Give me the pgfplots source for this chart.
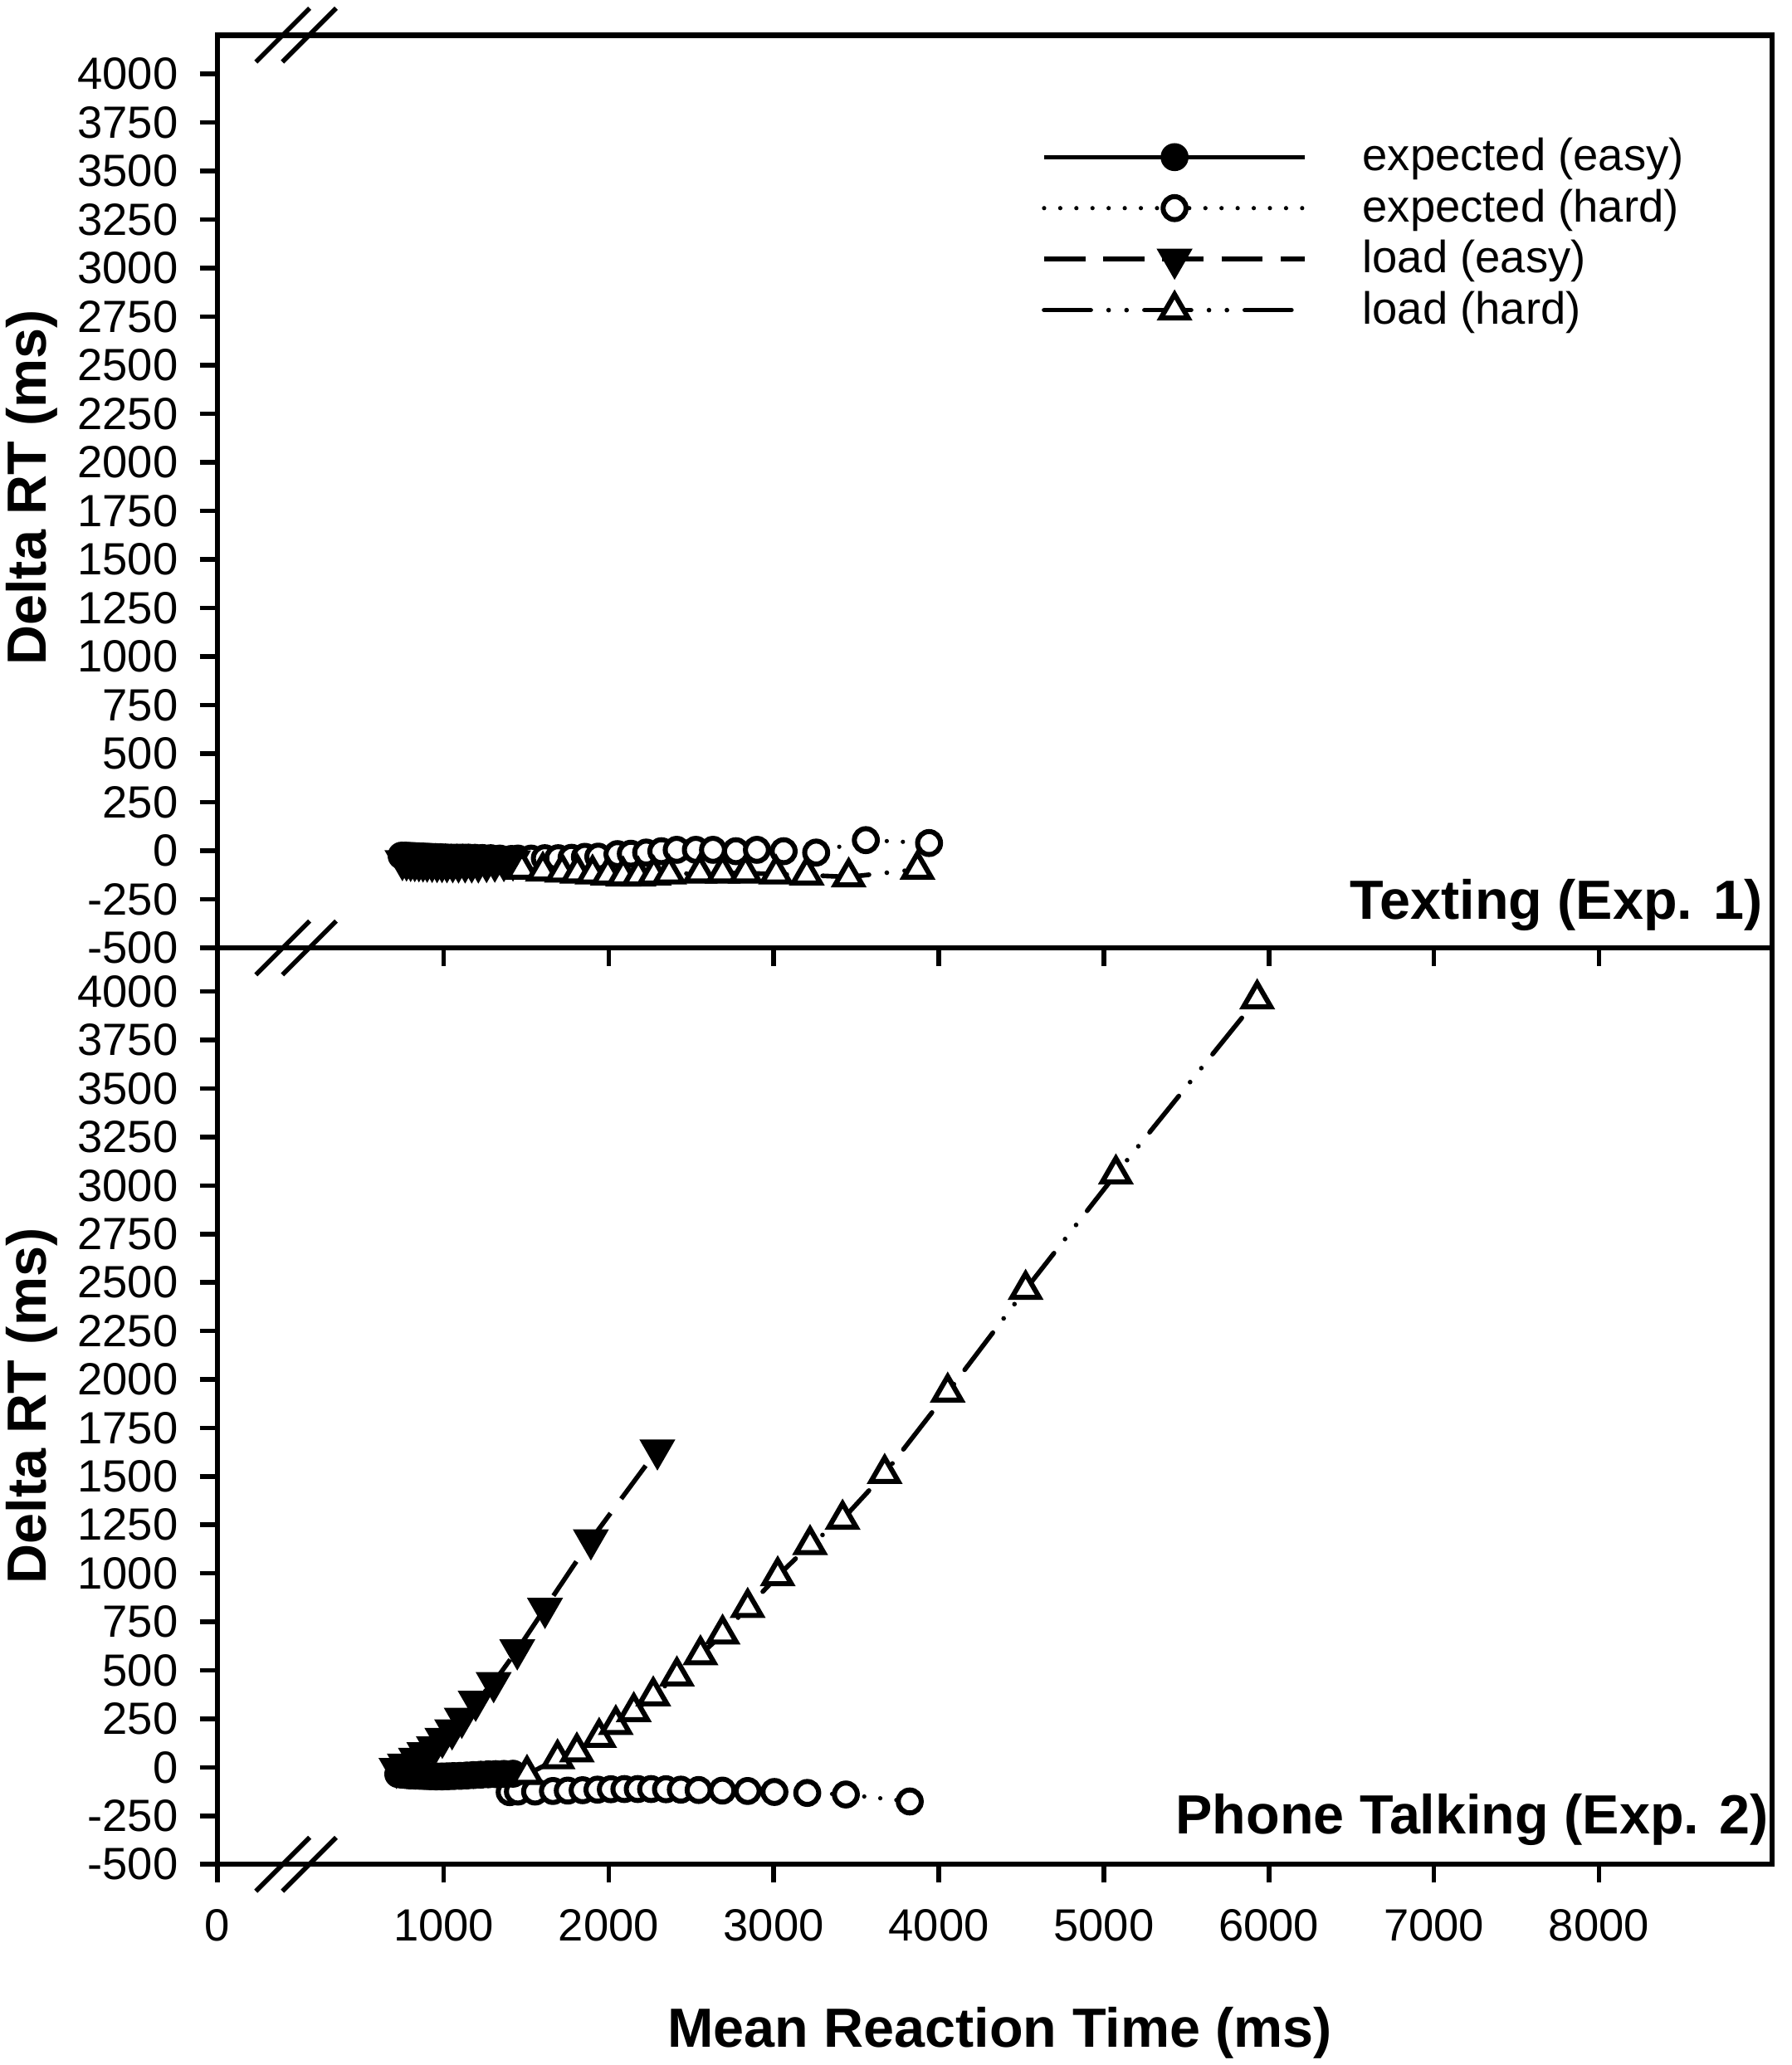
\documentclass[border=0pt]{standalone}
\usepackage{fontspec}
\setmainfont{Liberation Sans}
\usepackage{pgfplots}
\pgfplotsset{compat=1.18}
\begin{document}
\begin{tikzpicture}
\path[use as bounding box] (0,0) rectangle (500pt,576.2pt);
\pgfplotsset{
 panel/.style={
  at={(60.7pt,#1)}, anchor=south west,
  scale only axis, width=433.8pt,
  xmin=-370, xmax=9050, ymin=-500,
  xtick={-370,1000,2000,3000,4000,5000,6000,7000,8000},
  ytick={-500,-250,...,4000},
  tick align=outside, xtick pos=bottom, ytick pos=left,
  major tick length=5pt,
  major tick style={line width=1.3pt, black},
  axis line style={line width=1.5pt},
  ticklabel style={font=\fontsize{12.6}{14}\selectfont},
  xticklabel style={yshift=-4.1pt},
  yticklabel style={xshift=-2.5pt},
  /pgf/number format/1000 sep={},
  /pgf/number format/assume math mode=true,
  clip=false,
 },
 eeasy/.style={black, line width=1.3pt, mark=*, mark size=3.5pt, mark options={solid, fill=black, line width=0.8pt}},
 ehard/.style={black, line width=1.2pt, dash pattern=on 0pt off 4.5pt, line cap=round, mark=*, mark size=3.2pt, mark options={solid, fill=white, line width=1.4pt}},
 leasy/.style={black, line width=1.3pt, dash pattern=on 11.5pt off 5pt, mark=triangle*, mark size=5pt, mark options={solid, fill=black, rotate=180, line width=0.8pt}},
 lhard/.style={black, line width=1.3pt, dash pattern=on 13pt off 5pt on 0pt off 5pt on 0pt off 5pt, line cap=round, mark=triangle*, mark size=4.4pt, mark options={solid, fill=white, line width=1.4pt, line cap=butt}},
}
% ---------------- top panel: Texting ----------------
\begin{axis}[panel=311.7pt, height=254.7pt, ymax=4200,
  xticklabels={},
  legend style={draw=none, fill=none, at={(0.5297,0.888)}, anchor=north west,
    inner sep=0pt, row sep=3.6pt, column sep=15.4pt,
    nodes={inner sep=0pt}, font=\fontsize{12.6}{14}\selectfont},
  legend cell align=left,
  legend image code/.code={\draw[mark repeat=2,mark phase=2] plot coordinates {(0pt,0pt)(36.4pt,0pt)(72.8pt,0pt)};},
]
\addplot[ehard, forget plot] coordinates {
(1450,-40) (1530,-40) (1613,-38) (1694,-38) (1775,-36) (1856,-31) (1937,-30)
(2053,-17) (2134,-15) (2227,-9) (2319,-2) (2412,5) (2528,5) (2632,5) (2771,-2)
(2898,5) (3060,-2) (3257,-9) (3558,55) (3941,40)};
\addplot[eeasy, forget plot] coordinates {
(745,-25) (770,-25) (795,-26) (820,-27) (845,-28) (870,-29) (895,-30) (920,-31)
(950,-32) (980,-33) (1010,-34) (1045,-35) (1080,-35) (1115,-35) (1150,-35)
(1190,-36) (1235,-37) (1285,-38) (1340,-40) (1410,-42)};
\addplot[leasy, forget plot] coordinates {
(750,-50) (775,-52) (800,-54) (825,-55) (850,-56) (875,-57) (900,-58) (930,-59)
(960,-60) (990,-60) (1020,-61) (1055,-61) (1090,-62) (1130,-62) (1170,-62)
(1210,-62) (1260,-60) (1310,-58) (1365,-55) (1420,-52)};
\addplot[lhard, forget plot] coordinates {
(1474,-95) (1601,-105) (1717,-110) (1810,-115) (1902,-120) (1995,-125) (2088,-130)
(2180,-130) (2273,-125) (2366,-120) (2551,-115) (2690,-115) (2829,-115) (3014,-120)
(3200,-125) (3454,-135) (3871,-95)};
\addlegendimage{eeasy}
\addlegendentry{expected (easy)}
\addlegendimage{ehard}
\addlegendentry{expected (hard)}
\addlegendimage{leasy}
\addlegendentry{load (easy)}
\addlegendimage{lhard}
\addlegendentry{load (hard)}
\end{axis}
% ---------------- bottom panel: Phone talking ----------------
\begin{axis}[panel=56.0pt, height=255.7pt, ymax=4225,
  xticklabels={0,1000,2000,3000,4000,5000,6000,7000,8000},
]
\addplot[ehard] coordinates {
(1400,-128) (1450,-125) (1554,-125) (1662,-122) (1752,-120) (1842,-118) (1932,-115)
(2013,-113) (2095,-112) (2176,-112) (2257,-112) (2347,-113) (2437,-115) (2545,-117)
(2689,-120) (2842,-122) (3004,-127) (3203,-132) (3437,-140) (3824,-176)};
\addplot[eeasy] coordinates {
(725,-35) (750,-38) (775,-40) (800,-42) (830,-43) (860,-44) (890,-45) (920,-46)
(955,-47) (990,-47) (1025,-46) (1060,-45) (1100,-44) (1140,-42) (1180,-40)
(1225,-38) (1270,-36) (1315,-35) (1365,-34) (1420,-33)};
\addplot[leasy] coordinates {
(714,-5) (765,17) (832,47) (883,76) (941,106) (992,150) (1051,194) (1110,253)
(1194,341) (1303,437) (1446,606) (1614,820) (1892,1173) (2295,1637)};
\addplot[lhard] coordinates {
(1505,-37) (1690,44) (1807,79) (1942,154) (2043,220) (2152,287) (2270,368)
(2413,471) (2556,580) (2690,687) (2842,824) (3024,987) (3220,1148) (3417,1279)
(3672,1515) (4054,1934) (4526,2464) (5073,3059) (5929,3962)};
\end{axis}
% ---------------- axis break marks ----------------
\foreach \yy in {566.4pt,311.7pt,56.0pt}{
  \draw[line width=1.3pt] (71.4pt,\yy) ++(0pt,-7.5pt) -- ++(15pt,15pt);
  \draw[line width=1.3pt] (78.8pt,\yy) ++(0pt,-7.5pt) -- ++(15pt,15pt);
}
% ---------------- labels ----------------
\node[rotate=90, anchor=base, inner sep=0pt, font=\fontsize{15.4}{18}\selectfont\bfseries] at (12.9pt,440.2pt) {Delta RT (ms)};
\node[rotate=90, anchor=base, inner sep=0pt, font=\fontsize{15.4}{18}\selectfont\bfseries] at (12.9pt,183.9pt) {Delta RT (ms)};
\node[anchor=base, inner sep=0pt, font=\fontsize{15.4}{18}\selectfont\bfseries] at (279pt,4.9pt) {Mean Reaction Time (ms)};
\node[anchor=base east, inner sep=0pt, font=\fontsize{15.4}{18}\selectfont\bfseries] at (491.9pt,319.8pt) {Texting (Exp. 1)};
\node[anchor=base east, inner sep=0pt, font=\fontsize{15.4}{18}\selectfont\bfseries] at (493.7pt,64.5pt) {Phone Talking (Exp. 2)};
\end{tikzpicture}
\end{document}
